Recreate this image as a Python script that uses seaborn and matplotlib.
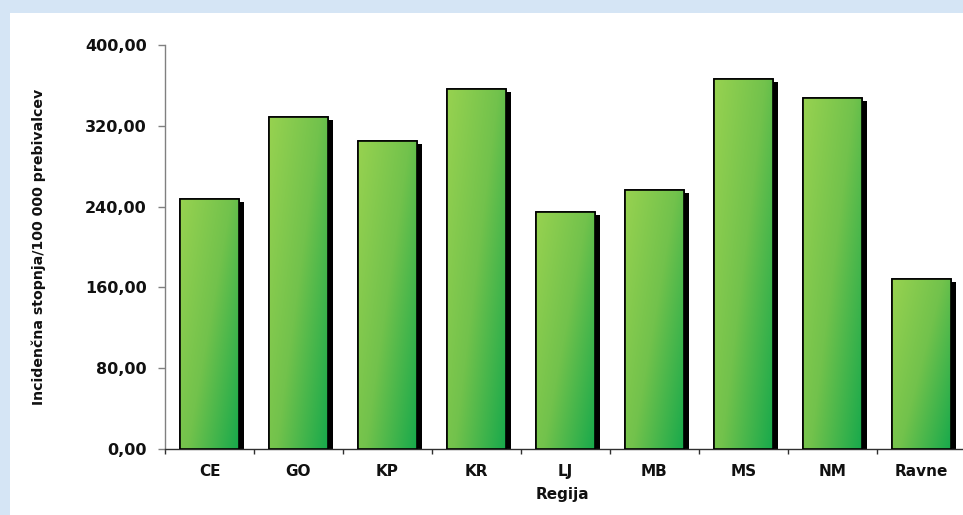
import numpy as np
import pandas as pd
import seaborn as sns
import matplotlib
matplotlib.use("Agg")
import matplotlib.pyplot as plt
from matplotlib.patches import Rectangle
from matplotlib.colors import LinearSegmentedColormap
from matplotlib.ticker import FixedLocator, FuncFormatter
import matplotlib.patheffects as pe

# Incidence rate per 100 000 inhabitants by region
regions = ["CE", "GO", "KP", "KR", "LJ", "MB", "MS", "NM", "Ravne"]
rates = [247.5, 328.7, 305.0, 356.4, 234.6, 256.4, 366.0, 347.5, 168.3]
y_ticks = [0, 80, 160, 240, 320, 400]

y_label = "Incidenčna stopnja/100 000 prebivalcev"
x_label = "Regija"

df = pd.DataFrame({"Regija": regions, "rate": rates})

sns.set_theme(style="white")
plt.rcParams["font.family"] = ["DejaVu Sans"]

fig = plt.figure(figsize=(9.63, 5.15), dpi=100)
fig.patch.set_facecolor("#d5e5f5")
# white slide panel behind the chart
fig.add_artist(Rectangle((10 / 963, 0), 1.0, 1 - 13 / 515,
                         transform=fig.transFigure, facecolor="white",
                         edgecolor="none", zorder=-5))

ax = fig.add_axes([165 / 963, 1 - 449 / 515, 801 / 963, 404 / 515])
ax.set_facecolor("none")
ax.set_zorder(1)

sns.barplot(data=df, x="Regija", y="rate", ax=ax, width=0.66,
            color="#6cc04a", edgecolor="black", linewidth=1.2, saturation=1)

green = LinearSegmentedColormap.from_list(
    "bar_green", ["#97d250", "#72c24c", "#18a94b"])
gy, gx = np.mgrid[0:1:120j, 0:1:120j]
# row 0 is the top of a bar: light at the top-left, deep green at the bottom-right
grad = 0.6 * gx + 0.45 * gy
grad = grad / grad.max()

for p in list(ax.patches):
    x0, y0 = p.get_x(), p.get_y()
    w, h = p.get_width(), p.get_height()
    p.set_zorder(2)
    p.set_path_effects([pe.SimplePatchShadow(offset=(3.6, -2.2),
                                             shadow_rgbFace="black", alpha=1.0),
                        pe.Normal()])
    im = ax.imshow(grad, extent=[x0, x0 + w, y0, y0 + h], origin="upper",
                   cmap=green, aspect="auto", zorder=3, interpolation="bilinear")
    im.set_clip_path(p)
    ax.add_patch(Rectangle((x0, y0), w, h, fill=False, edgecolor="black",
                           linewidth=1.2, zorder=4))

ax.set_xlim(-0.5, len(regions) - 0.5)
ax.set_ylim(0, 400)
ax.set_aspect("auto")

for side in ["top", "right"]:
    ax.spines[side].set_visible(False)
ax.spines["left"].set_color("#808080")
ax.spines["bottom"].set_color("#303030")
ax.spines["left"].set_linewidth(1.0)
ax.spines["bottom"].set_linewidth(1.0)

ax.yaxis.set_major_locator(FixedLocator(y_ticks))
ax.yaxis.set_major_formatter(FuncFormatter(lambda v, _: f"{v:.2f}".replace(".", ",")))
ax.tick_params(axis="y", which="major", left=True, length=5, width=1.0,
               color="#808080", pad=8, labelsize=11.5, labelcolor="#111111")
for t in ax.get_yticklabels():
    t.set_fontweight("bold")

ax.set_xticks(range(len(regions)))
ax.set_xticklabels(regions, fontsize=11, fontweight="bold", color="#111111")
ax.xaxis.set_minor_locator(FixedLocator(np.arange(-0.5, len(regions), 1.0)))
ax.tick_params(axis="x", which="major", bottom=True, length=0, pad=11)
ax.tick_params(axis="x", which="minor", bottom=True, length=3.6, width=1.0,
               color="#303030")

ax.set_xlabel(x_label, fontsize=11, fontweight="bold", color="#111111")
ax.xaxis.set_label_coords(0.496, -0.094)
ax.set_ylabel(y_label, fontsize=10.2, fontweight="bold", color="#111111")
ax.yaxis.set_label_coords(-0.148, 0.5)

fig.savefig("out.png", dpi=100, facecolor=fig.get_facecolor())
